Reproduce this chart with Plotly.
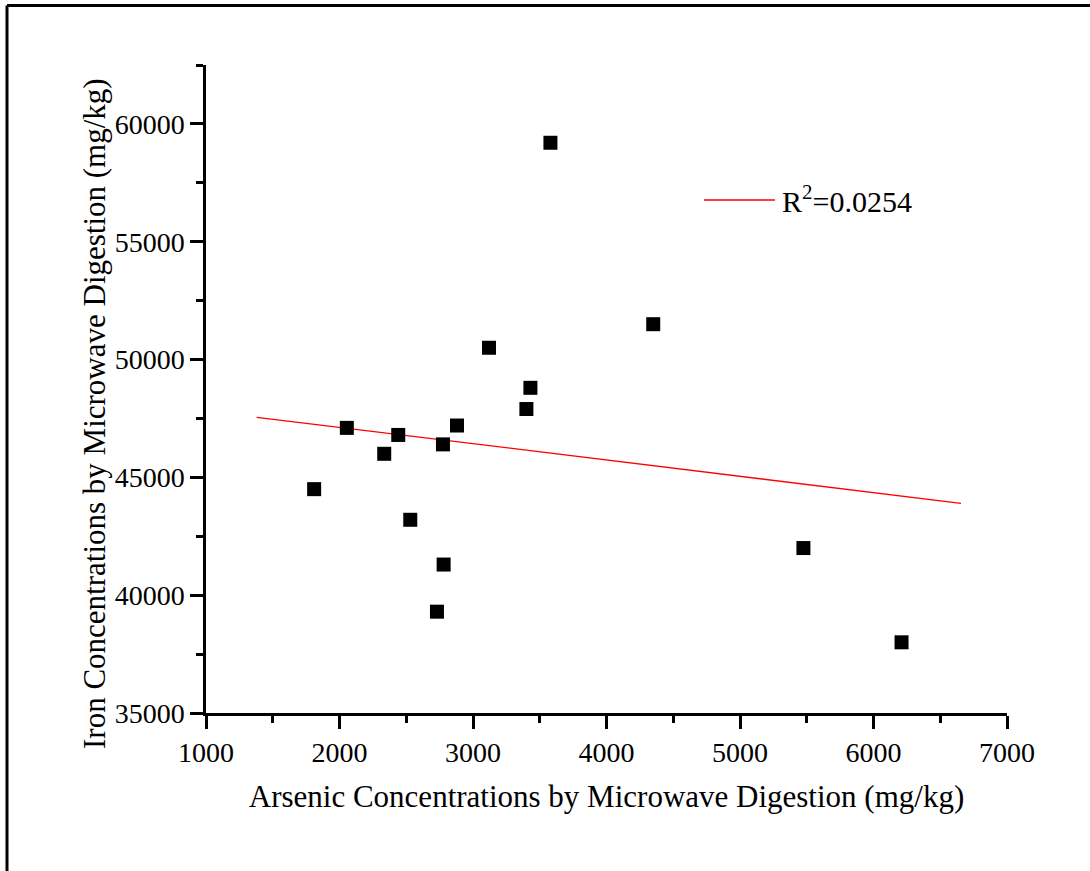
import plotly.graph_objects as go

# Data
arsenic = [1810, 2055, 2335, 2440, 2530, 2775, 2780, 2730, 2880, 3120, 3400, 3430, 3580, 4350, 5475, 6210]
iron = [44500, 47100, 46000, 46800, 43200, 46400, 41300, 39300, 47200, 50500, 47900, 48800, 59200, 51500, 42000, 38000]

fit_x = [1380, 6655]
fit_y = [47550, 43900]
r2_label = "R<sup>2</sup>=0.0254"

x_title = "Arsenic Concentrations by Microwave Digestion (mg/kg)"
y_title = "Iron Concentrations by Microwave Digestion (mg/kg)"

FONT = "Liberation Serif"

fig = go.Figure()
fig.add_trace(go.Scatter(
    x=fit_x, y=fit_y, mode="lines",
    line=dict(color="#ff0000", width=1.3),
    showlegend=False, hoverinfo="skip"))
fig.add_trace(go.Scatter(
    x=arsenic, y=iron, mode="markers",
    marker=dict(symbol="square", size=14, color="black", line=dict(width=0)),
    showlegend=False))

axis_common = dict(
    showline=True, linecolor="black", linewidth=2.5,
    showgrid=False, zeroline=False,
    ticks="outside", ticklen=13, tickwidth=2.5, tickcolor="black",
    tickfont=dict(family=FONT, size=28, color="black"),
    tickformat="d",
)

fig.update_xaxes(
    range=[1000, 7000], tick0=1000, dtick=1000,
    minor=dict(ticks="outside", ticklen=7, tickwidth=2.5, tickcolor="black", dtick=500, tick0=1000, showgrid=False),
    title=dict(text=x_title, font=dict(family=FONT, size=31, color="black"), standoff=18),
    **axis_common)
fig.update_yaxes(
    range=[35000, 62500], tick0=35000, dtick=5000,
    minor=dict(ticks="outside", ticklen=7, tickwidth=2.5, tickcolor="black", dtick=2500, tick0=35000, showgrid=False),
    **axis_common)

W, H = 1090, 871
L, R, T, B = 206, 83, 65, 158
pw, ph = W - L - R, H - T - B

def px(x):
    return (x - L) / pw

def py(y):
    return (H - B - y) / ph

shapes = [
    # outer frame (top and left edges visible)
    dict(type="line", xref="paper", yref="paper", x0=px(7), x1=px(1100), y0=py(5.5), y1=py(5.5),
         line=dict(color="black", width=3)),
    dict(type="line", xref="paper", yref="paper", x0=px(7), x1=px(7), y0=py(5.5), y1=py(880),
         line=dict(color="black", width=3)),
    # legend line sample
    dict(type="line", xref="paper", yref="paper", x0=px(704), x1=px(775), y0=py(200), y1=py(200),
         line=dict(color="#ff0000", width=1.3)),
]

fig.update_layout(
    width=W, height=H,
    margin=dict(l=L, r=R, t=T, b=B),
    paper_bgcolor="white", plot_bgcolor="white",
    shapes=shapes,
    annotations=[
        dict(xref="paper", yref="paper", x=px(780), y=py(199),
             xanchor="left", yanchor="middle", showarrow=False,
             text=r2_label, font=dict(family=FONT, size=30, color="black")),
        dict(xref="paper", yref="paper", x=px(94), y=py(414),
             xanchor="center", yanchor="middle", showarrow=False, textangle=-90,
             text=y_title, font=dict(family=FONT, size=31, color="black")),
    ],
    font=dict(family=FONT, color="black"),
)

fig.write_html("out.html")
